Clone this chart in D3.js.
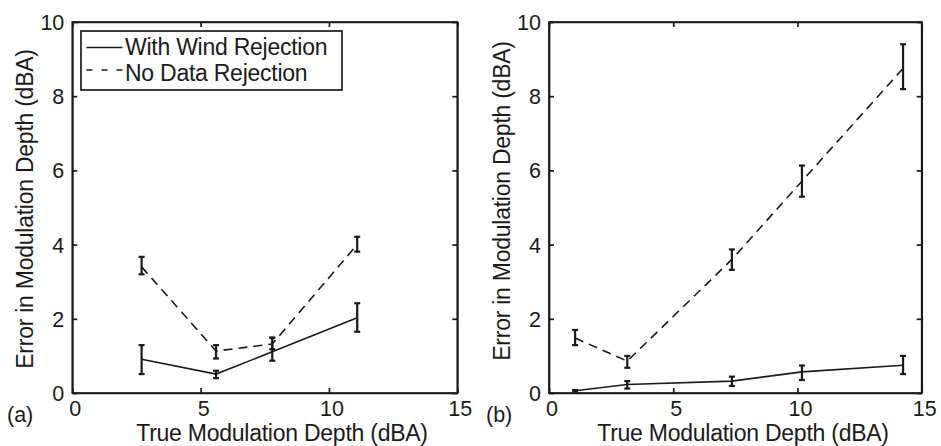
<!DOCTYPE html>
<html>
<head>
<meta charset="utf-8">
<script src="https://cdn.jsdelivr.net/npm/d3@7"></script>
<style>
  body { margin: 0; background: #fff; }
  svg { display: block; }
  text { font-family: "Liberation Sans", Arial, Helvetica, sans-serif; fill: #1a1a1a; }
</style>
</head>
<body>
<script>
const w = 941;
const h = 446;

// tick labels
const xTicks = [0, 5, 10, 15];
const yTicks = [0, 2, 4, 6, 8, 10];

// panel (a)
const aDepth   = [2.70, 5.60, 7.79, 11.10];
const aWind    = [0.91, 0.51, 1.11, 2.03];
const aWindLo  = [0.51, 0.40, 0.87, 1.65];
const aWindHi  = [1.29, 0.60, 1.49, 2.42];
const aNone    = [3.40, 1.13, 1.32, 4.00];
const aNoneLo  = [3.20, 0.93, 1.18, 3.81];
const aNoneHi  = [3.67, 1.29, 1.49, 4.21];

// panel (b)
const bDepth   = [1.05, 3.15, 7.36, 10.18, 14.25];
const bWind    = [0.06, 0.23, 0.32, 0.57, 0.75];
const bWindLo  = [0.04, 0.12, 0.19, 0.35, 0.51];
const bWindHi  = [0.08, 0.32, 0.44, 0.74, 1.00];
const bNone    = [1.48, 0.86, 3.60, 5.71, 8.75];
const bNoneLo  = [1.29, 0.68, 3.32, 5.29, 8.19];
const bNoneHi  = [1.70, 1.00, 3.87, 6.13, 9.40];

const legendLabels = ["With Wind Rejection", "No Data Rejection"];
const xTitle = "True Modulation Depth (dBA)";
const yTitle = "Error in Modulation Depth (dBA)";

const ink = "#1a1a1a";
const dash = "9,6";

const svg = d3.select("body").append("svg")
  .attr("width", w)
  .attr("height", h);

function rows(x, y, lo, hi) {
  return x.map((d, i) => ({x: d, y: y[i], lo: lo[i], hi: hi[i]}));
}

function panel(p) {
  const xScale = d3.scaleLinear().domain([0, 15]).range([p.left, p.right]);
  const yScale = d3.scaleLinear().domain([0, 10]).range([p.bottom, p.top]);
  const g = svg.append("g");

  // inward ticks on all four sides, box
  const tl = 5;
  g.append("g")
    .attr("transform", "translate(0," + p.bottom + ")")
    .call(d3.axisBottom(xScale).tickValues(xTicks).tickSizeInner(-tl).tickSizeOuter(0).tickFormat(""));
  g.append("g")
    .attr("transform", "translate(0," + p.top + ")")
    .call(d3.axisTop(xScale).tickValues(xTicks).tickSizeInner(-tl).tickSizeOuter(0).tickFormat(""));
  g.append("g")
    .attr("transform", "translate(" + p.left + ",0)")
    .call(d3.axisLeft(yScale).tickValues(yTicks).tickSizeInner(-tl).tickSizeOuter(0).tickFormat(""));
  g.append("g")
    .attr("transform", "translate(" + p.right + ",0)")
    .call(d3.axisRight(yScale).tickValues(yTicks).tickSizeInner(-tl).tickSizeOuter(0).tickFormat(""));
  g.selectAll(".domain, .tick line")
    .attr("stroke", ink)
    .attr("stroke-width", 1.7);

  g.append("rect")
    .attr("x", p.left).attr("y", p.top)
    .attr("width", p.right - p.left).attr("height", p.bottom - p.top)
    .attr("fill", "none").attr("stroke", ink).attr("stroke-width", 1.7);

  // tick labels
  g.selectAll(".xl").data(xTicks).enter().append("text")
    .attr("x", d => xScale(d) + 3)
    .attr("y", p.bottom + 22.5)
    .attr("text-anchor", "middle")
    .attr("font-size", 21.5)
    .text(d => d);
  g.selectAll(".yl").data(yTicks).enter().append("text")
    .attr("x", p.left - 8)
    .attr("y", d => yScale(d) + 8)
    .attr("text-anchor", "end")
    .attr("font-size", 21.5)
    .text(d => d);

  // titles
  g.append("text")
    .attr("x", p.xtx).attr("y", p.xty)
    .attr("text-anchor", "middle")
    .attr("font-size", 23)
    .attr("letter-spacing", -0.25)
    .text(xTitle);
  g.append("text")
    .attr("transform", "translate(" + p.ytx + "," + p.yty + ") rotate(-90)")
    .attr("text-anchor", "middle")
    .attr("font-size", 23)
    .attr("letter-spacing", -0.25)
    .text(yTitle);
  g.append("text")
    .attr("x", p.tagX).attr("y", p.bottom + 29)
    .attr("font-size", 21.5)
    .text(p.tag);

  const line = d3.line().x(d => xScale(d.x)).y(d => yScale(d.y));

  p.series.forEach(s => {
    g.append("path")
      .datum(s.rows)
      .attr("d", line)
      .attr("fill", "none")
      .attr("stroke", ink)
      .attr("stroke-width", 1.6)
      .attr("stroke-dasharray", s.dashed ? dash : null);

    const eb = g.append("g")
      .attr("stroke", ink)
      .attr("stroke-width", 2.2);
    eb.selectAll(".v").data(s.rows).enter().append("line")
      .attr("x1", d => xScale(d.x)).attr("x2", d => xScale(d.x))
      .attr("y1", d => yScale(d.lo)).attr("y2", d => yScale(d.hi));
    eb.selectAll(".lo").data(s.rows).enter().append("line")
      .attr("x1", d => xScale(d.x) - 3).attr("x2", d => xScale(d.x) + 3)
      .attr("y1", d => yScale(d.lo)).attr("y2", d => yScale(d.lo));
    eb.selectAll(".hi").data(s.rows).enter().append("line")
      .attr("x1", d => xScale(d.x) - 3).attr("x2", d => xScale(d.x) + 3)
      .attr("y1", d => yScale(d.hi)).attr("y2", d => yScale(d.hi));
  });

  return g;
}

const ga = panel({
  left: 72.3, right: 457.3, top: 22, bottom: 393,
  xtx: 282, xty: 441, ytx: 33, yty: 209,
  tag: "(a)", tagX: 7,
  series: [
    {rows: rows(aDepth, aWind, aWindLo, aWindHi), dashed: false},
    {rows: rows(aDepth, aNone, aNoneLo, aNoneHi), dashed: true}
  ]
});

panel({
  left: 549, right: 921.7, top: 22, bottom: 393,
  xtx: 743, xty: 441, ytx: 510, yty: 201,
  tag: "(b)", tagX: 486,
  series: [
    {rows: rows(bDepth, bWind, bWindLo, bWindHi), dashed: false},
    {rows: rows(bDepth, bNone, bNoneLo, bNoneHi), dashed: true}
  ]
});

// legend in panel (a)
const lg = ga.append("g");
lg.append("rect")
  .attr("x", 81).attr("y", 31)
  .attr("width", 261).attr("height", 59)
  .attr("fill", "#fff").attr("stroke", ink).attr("stroke-width", 1.7);
const legendSample = [47.5, 70];
const legendBase = [54.7, 81.3];
legendLabels.forEach((t, i) => {
  lg.append("line")
    .attr("x1", 86.5).attr("x2", 122.5)
    .attr("y1", legendSample[i]).attr("y2", legendSample[i])
    .attr("stroke", ink).attr("stroke-width", 1.6)
    .attr("stroke-dasharray", i === 1 ? "6,9" : null);
  lg.append("text")
    .attr("x", 125).attr("y", legendBase[i])
    .attr("font-size", 23)
    .attr("letter-spacing", -0.25)
    .text(t);
});
</script>
</body>
</html>
